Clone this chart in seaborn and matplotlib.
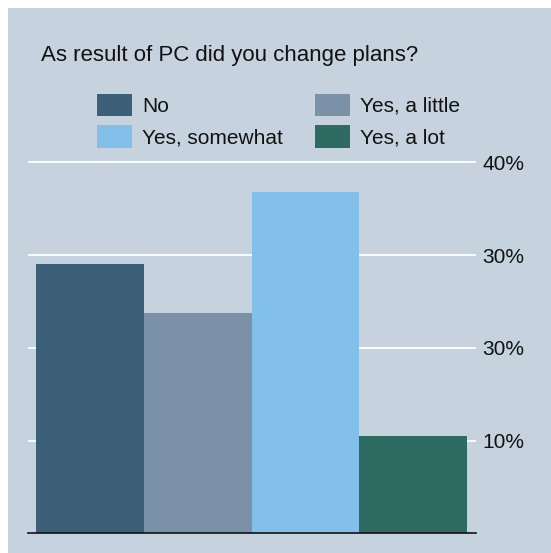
import matplotlib
matplotlib.use("Agg")
import matplotlib.pyplot as plt
from matplotlib.patches import Patch, Rectangle
import seaborn as sns
import pandas as pd

# Survey answers and their share of respondents (%)
answers = ["No", "Yes, a little", "Yes, somewhat", "Yes, a lot"]
shares = [29, 23.8, 36.8, 10.5]
colors = ["#3d6079", "#7b91a8", "#82bfe9", "#2d6b63"]

# Right-hand axis labels
tick_values = [10, 20, 30, 40]
tick_labels = ["10%", "30%", "30%", "40%"]

title = "As result of PC did you change plans?"

W, H = 551, 553
panel_bg = "#c6d3df"
ink = "#111111"

sns.set_theme(style="white")
plt.rcParams["font.family"] = ["Liberation Sans", "DejaVu Sans"]
plt.rcParams["text.color"] = ink

fig = plt.figure(figsize=(W / 100, H / 100), dpi=100, facecolor="white")

# Shaded panel behind everything, leaving a thin white margin top/left
fig.patches.append(Rectangle((8 / W, 0), 1 - 8 / W, 1 - 8 / H,
                             transform=fig.transFigure, facecolor=panel_bg,
                             edgecolor="none", zorder=-10))

# Axes geometry in pixels
ax_left, ax_right = 28, 476
y_zero, px_per_unit = 533.3, 9.275
ymax = 42
ax_top = y_zero - ymax * px_per_unit
ax = fig.add_axes([ax_left / W, 1 - y_zero / H, (ax_right - ax_left) / W,
                   (y_zero - ax_top) / H])
ax.set_facecolor("none")
ax.set_zorder(1)

df = pd.DataFrame({"answer": answers, "share": shares})
sns.barplot(data=df, x="answer", y="share", hue="answer", order=answers,
            hue_order=answers, palette=colors, width=1.0, legend=False,
            linewidth=0, saturation=1, ax=ax, zorder=3)

ax.set_ylim(0, ymax)
bar_px = 107.8
ax.set_xlim(-0.5 - 8 / bar_px, 3.5 + 9 / bar_px)

# White horizontal gridlines behind the bars
for v in tick_values:
    ax.axhline(v, color="white", lw=1.3, zorder=1)

ax.yaxis.tick_right()
ax.set_yticks(tick_values)
ax.set_yticklabels(tick_labels)
ax.tick_params(axis="y", length=0, pad=4.5, labelsize=15, labelcolor=ink)
ax.set_xticks([])
ax.set_xlabel("")
ax.set_ylabel("")

for side in ["top", "left", "right"]:
    ax.spines[side].set_visible(False)
ax.spines["bottom"].set_color(ink)
ax.spines["bottom"].set_linewidth(1.2)
ax.spines["bottom"].set_zorder(4)

fig.text(41 / W, 1 - 61.5 / H, title, fontsize=16, color=ink,
         ha="left", va="baseline")

handles = [Patch(facecolor=c, edgecolor="none", label=a)
           for a, c in zip(answers, colors)]
order = [0, 2, 1, 3]
fig.legend([handles[i] for i in order], [answers[i] for i in order],
           ncol=2, loc="upper left", bbox_to_anchor=(97 / W, 1 - 93.5 / H),
           frameon=False, fontsize=15, handlelength=1.68, handleheight=1.3,
           handletextpad=0.48, columnspacing=1.54, labelspacing=0.42,
           borderpad=0, borderaxespad=0, labelcolor=ink)

fig.savefig("out.png", dpi=100, facecolor="white")
